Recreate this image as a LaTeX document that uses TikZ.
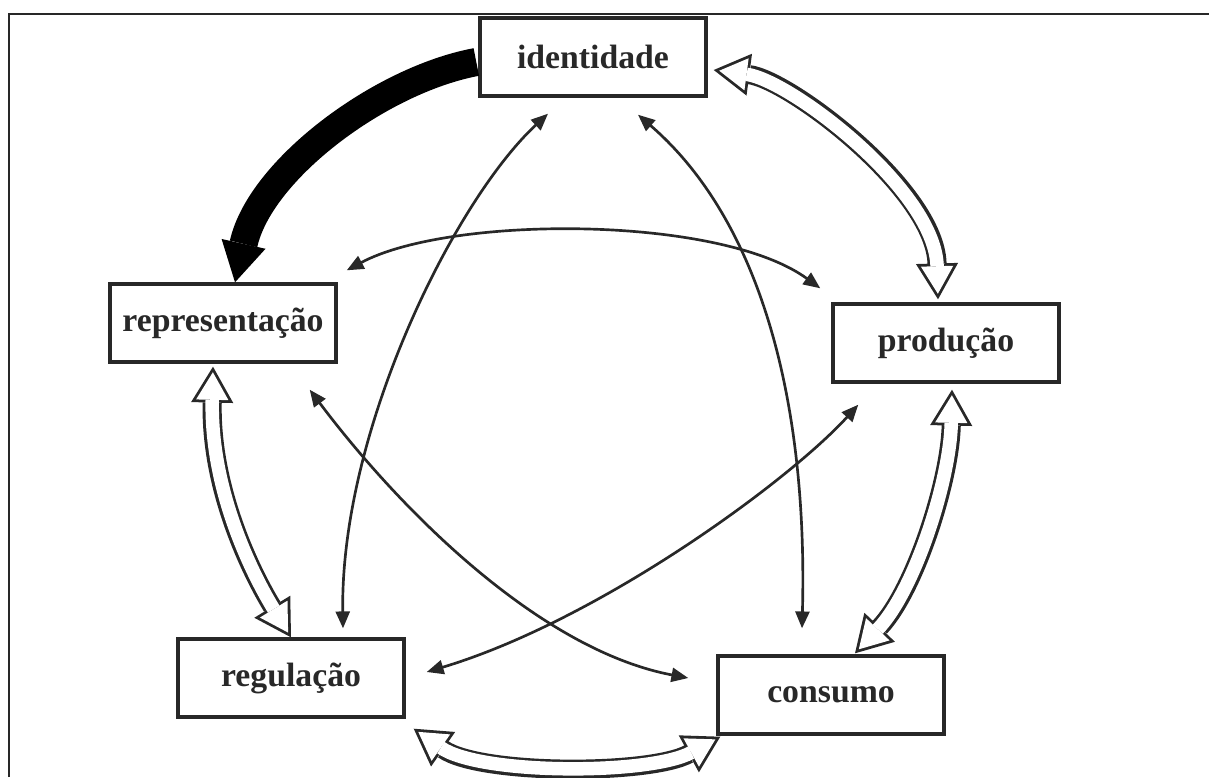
\documentclass[tikz,border=0pt]{standalone}
\usepackage{fontspec}
\setmainfont{Liberation Serif}
\usetikzlibrary{arrows.meta}
\definecolor{ink}{RGB}{40,40,40}
\begin{document}
\begin{tikzpicture}[x=0.025cm,y=-0.025cm]
 \tikzset{box/.style={draw=ink, line width=2.4pt, minimum width=5.65cm, minimum height=1.95cm, inner sep=0pt, text=ink, font=\fontsize{24}{28}\selectfont\bfseries},
  link/.style={ink, line width=1.9pt, {Triangle[length=12pt,width=10pt]}-{Triangle[length=12pt,width=10pt]}},
  heavy/.style={black, line width=20pt, -{Triangle[length=28pt,width=32pt,line width=0pt 0]}},
  hollowout/.style={ink, line width=13.6pt, {Triangle[length=25.5pt,width=30pt,line width=0pt 0]}-{Triangle[length=25.5pt,width=30pt,line width=0pt 0]}},
  hollowin/.style={white, line width=9.6pt, shorten <=3.94pt, shorten >=3.94pt, {Triangle[length=19.6pt,width=23pt,line width=0pt 0]}-{Triangle[length=19.6pt,width=23pt,line width=0pt 0]}}}
 \useasboundingbox (0,0) rectangle (1209,777);
 \draw[ink, line width=1.4pt] (9,777) -- (9,14) -- (1209,14);
  \node[box] (iden) at (593,57) {identidade};
  \node[box] (repr) at (223,323) {representação};
  \node[box] (prod) at (946,343) {produção};
  \node[box] (regu) at (291,678) {regulação};
  \node[box] (cons) at (831,695) {consumo};
  \draw[link] ([shift={(-45,16)}]iden.south) .. controls (455,200) and (340,430) .. ([shift={(52,-9)}]regu.north);
  \draw[link] ([shift={(45,17)}]iden.south) .. controls (760,220) and (808,400) .. ([shift={(-29,-26)}]cons.north);
  \draw[link] ([shift={(9,-12)}]repr.north east) .. controls (450,215) and (720,215) .. ([shift={(-11,-14)}]prod.north west);
  \draw[link] ([shift={(-28,26)}]repr.south east) .. controls (400,510) and (540,650) .. ([shift={(-28,-17)}]cons.west);
  \draw[link] ([shift={(27,21)}]prod.south west) .. controls (790,480) and (600,620) .. ([shift={(21,-6)}]regu.east);
  \draw[heavy] ([shift={(-2,5)}]iden.west) .. controls (380,80) and (260,170) .. ([shift={(12,0)}]repr.north);
  \draw[hollowout] ([shift={(6,13)}]iden.east) .. controls (790,80) and (935,190) .. ([shift={(-8,-3)}]prod.north);
  \draw[hollowin] ([shift={(6,13)}]iden.east) .. controls (790,80) and (935,190) .. ([shift={(-8,-3)}]prod.north);
  \draw[hollowout] ([shift={(6,6)}]prod.south) .. controls (950,480) and (915,590) .. ([shift={(24,-1)}]cons.north);
  \draw[hollowin] ([shift={(6,6)}]prod.south) .. controls (950,480) and (915,590) .. ([shift={(24,-1)}]cons.north);
  \draw[hollowout] ([shift={(8,10)}]regu.south east) .. controls (480,775) and (650,775) .. ([shift={(4,1)}]cons.south west);
  \draw[hollowin] ([shift={(8,10)}]regu.south east) .. controls (480,775) and (650,775) .. ([shift={(4,1)}]cons.south west);
  \draw[hollowout] (regu.north) .. controls (262,590) and (210,500) .. ([shift={(-10,3)}]repr.south);
  \draw[hollowin] (regu.north) .. controls (262,590) and (210,500) .. ([shift={(-10,3)}]repr.south);
\end{tikzpicture}
\end{document}
